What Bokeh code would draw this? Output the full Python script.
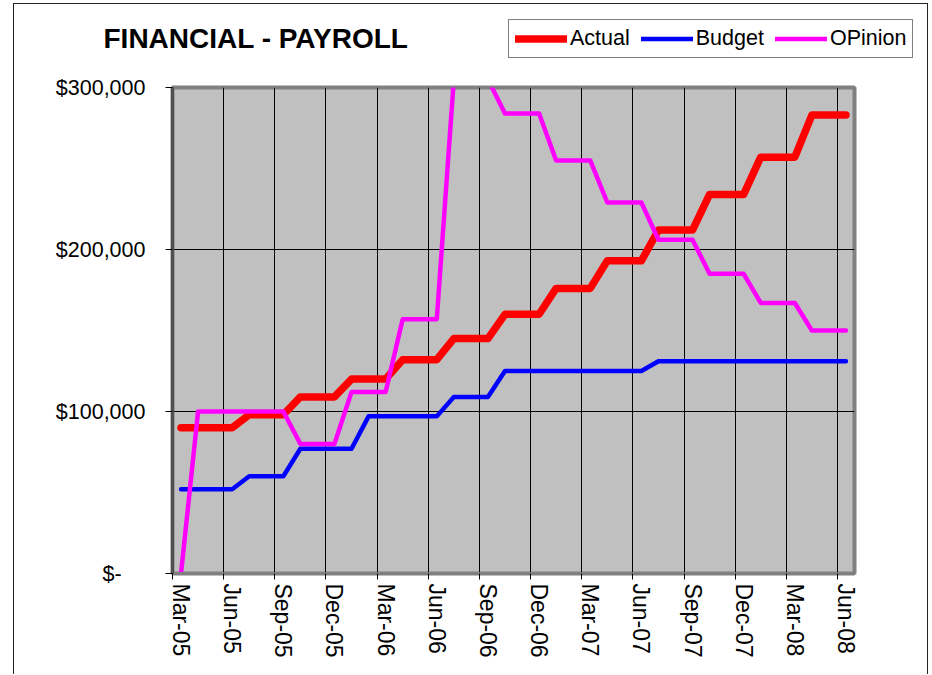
import numpy as np
from bokeh.plotting import figure
from bokeh.models import Range1d, FixedTicker, Legend, LegendItem, Label
from bokeh.embed import file_html
from bokeh.resources import INLINE

months = ["Mar-05", "Apr-05", "May-05", "Jun-05", "Jul-05", "Aug-05", "Sep-05", "Oct-05",
          "Nov-05", "Dec-05", "Jan-06", "Feb-06", "Mar-06", "Apr-06", "May-06", "Jun-06",
          "Jul-06", "Aug-06", "Sep-06", "Oct-06", "Nov-06", "Dec-06", "Jan-07", "Feb-07",
          "Mar-07", "Apr-07", "May-07", "Jun-07", "Jul-07", "Aug-07", "Sep-07", "Oct-07",
          "Nov-07", "Dec-07", "Jan-08", "Feb-08", "Mar-08", "Apr-08", "May-08", "Jun-08"]

actual = [90000, 90000, 90000, 90000, 98000, 98000, 98000, 109000, 109000, 109000,
          120000, 120000, 120000, 132000, 132000, 132000, 145000, 145000, 145000, 160000,
          160000, 160000, 176000, 176000, 176000, 193000, 193000, 193000, 212000, 212000,
          212000, 234000, 234000, 234000, 257000, 257000, 257000, 283000, 283000, 283000]

budget = [52000, 52000, 52000, 52000, 60000, 60000, 60000, 77000, 77000, 77000,
          77000, 97000, 97000, 97000, 97000, 97000, 109000, 109000, 109000, 125000,
          125000, 125000, 125000, 125000, 125000, 125000, 125000, 125000, 131000, 131000,
          131000, 131000, 131000, 131000, 131000, 131000, 131000, 131000, 131000, 131000]

opinion = [0, 100000, 100000, 100000, 100000, 100000, 100000, 80000, 80000, 80000,
           112000, 112000, 112000, 157000, 157000, 157000, 305000, 305000, 305000, 284000,
           284000, 284000, 255000, 255000, 255000, 229000, 229000, 229000, 206000, 206000,
           206000, 185000, 185000, 185000, 167000, 167000, 167000, 150000, 150000, 150000]

series_names = ["Actual", "Budget", "OPinion"]
y_ticks = [0, 100000, 200000, 300000]
y_tick_labels = ["$-\u00a0\u00a0\u00a0\u00a0", "$100,000", "$200,000", "$300,000"]
title_text = "FINANCIAL - PAYROLL"

x = list(range(len(months)))
label_pos = x[0::3]
boundaries = [i - 0.5 for i in label_pos]

FONT = "Liberation Sans"
W = 915
BORDER = "1px solid #222222"
styles = [dict(line_color="#FF0000", line_width=7.5),
          dict(line_color="#0000FF", line_width=4.5),
          dict(line_color="#FF00FF", line_width=4.5)]

# ---------- header: title + legend ----------
HH = 68
header = figure(width=W, height=HH, output_backend="svg", toolbar_location=None,
                x_axis_location=None, y_axis_location=None, min_border=0, title=None,
                x_range=Range1d(0, W), y_range=Range1d(0, HH))
header.styles = {"margin-left": "13px", "margin-top": "3px", "border": BORDER,
                 "border-bottom": "none"}
header.outline_line_color = None
header.background_fill_color = "white"
header.border_fill_color = "white"
header.grid.visible = False

header.add_layout(Label(x=89, y=34.5, x_units="screen", y_units="screen", text=title_text,
                        text_font=FONT, text_font_size="28px", text_font_style="bold",
                        text_color="black", text_baseline="middle", text_align="left"))

# legend-only renderers (no visible data in the header)
nan2 = np.array([np.nan, np.nan])
legend_renderers = [header.line(nan2, nan2, line_join="round", line_cap="round", **s) for s in styles]
legend = Legend(items=[LegendItem(label=n, renderers=[r]) for n, r in zip(series_names, legend_renderers)],
                orientation="horizontal", location=(494, 14),
                glyph_width=52, glyph_height=25, label_standoff=3, spacing=11,
                padding=6, margin=0,
                label_text_font=FONT, label_text_font_size="21.5px", label_text_color="black",
                border_line_color="black", border_line_width=1,
                background_fill_color="white", background_fill_alpha=1)
header.add_layout(legend, "center")

# ---------- main chart ----------
p = figure(width=W, height=603, output_backend="svg", toolbar_location=None, title=None,
           x_range=Range1d(-0.5, len(months) - 0.5), y_range=Range1d(0, 300000),
           min_border_left=158, min_border_right=75, min_border_top=16, min_border_bottom=101)
p.styles = {"margin-left": "13px", "border-left": BORDER, "border-right": BORDER}

p.background_fill_color = "#C0C0C0"
p.border_fill_color = "white"
p.outline_line_color = "#808080"
p.outline_line_width = 4

p.xgrid.ticker = FixedTicker(ticks=boundaries)
p.ygrid.ticker = FixedTicker(ticks=y_ticks[1:3])
for g in (p.xgrid, p.ygrid):
    g.grid_line_color = "black"
    g.grid_line_width = 1

xa = p.xaxis[0]
xa.ticker = FixedTicker(ticks=label_pos, minor_ticks=boundaries)
xa.major_label_overrides = {i: months[i] for i in label_pos}
xa.major_label_orientation = "vertical"
xa.major_tick_out = 0
xa.major_tick_in = 0
xa.minor_tick_out = 6
xa.minor_tick_in = 0
xa.minor_tick_line_color = "black"
xa.axis_line_color = "#808080"
xa.axis_line_width = 3
xa.major_label_standoff = 4
xa.major_label_text_font = FONT
xa.major_label_text_font_size = "23px"
xa.major_label_text_color = "black"

ya = p.yaxis[0]
ya.ticker = FixedTicker(ticks=y_ticks)
ya.major_label_overrides = dict(zip(y_ticks, y_tick_labels))
ya.major_tick_out = 7
ya.major_tick_in = 0
ya.minor_tick_out = 0
ya.minor_tick_in = 0
ya.major_tick_line_color = "black"
ya.axis_line_color = "#505050"
ya.axis_line_width = 3
ya.major_label_standoff = 20
ya.major_label_text_font = FONT
ya.major_label_text_font_size = "21.5px"
ya.major_label_text_color = "black"

for vals, s in zip([actual, budget, opinion], styles):
    p.line(x, vals, line_join="round", line_cap="round", **s)

open("out.html", "w").write(file_html([header, p], INLINE))
